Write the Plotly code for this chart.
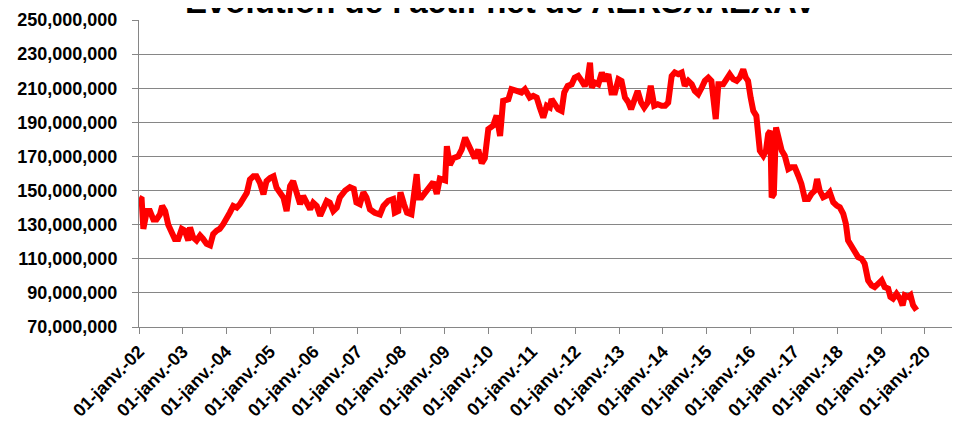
import pandas as pd
import plotly.graph_objects as go

TITLE = "Evolution de l'actif net de AERSXAEXAV"

# Decimal years
years = [
    2002.00, 2002.06, 2002.10, 2002.18, 2002.25, 2002.33, 2002.40, 2002.48, 2002.53, 2002.60,
    2002.67, 2002.75, 2002.82, 2002.90, 2002.98, 2003.05, 2003.13, 2003.17, 2003.24, 2003.32,
    2003.40, 2003.47, 2003.55, 2003.63, 2003.70, 2003.78, 2003.85, 2003.93, 2004.01, 2004.08,
    2004.16, 2004.24, 2004.31, 2004.39, 2004.47, 2004.54, 2004.62, 2004.69, 2004.77, 2004.85,
    2004.92, 2005.00, 2005.08, 2005.15, 2005.23, 2005.31, 2005.38, 2005.46, 2005.53, 2005.61,
    2005.69, 2005.76, 2005.84, 2005.92, 2005.99, 2006.07, 2006.15, 2006.22, 2006.30, 2006.37,
    2006.45, 2006.53, 2006.60, 2006.72, 2006.83, 2006.92, 2006.98, 2007.06, 2007.14, 2007.21,
    2007.29, 2007.40, 2007.52, 2007.60, 2007.71, 2007.82, 2007.86, 2007.94, 2007.99, 2008.07,
    2008.14, 2008.24, 2008.28, 2008.36, 2008.40, 2008.47, 2008.59, 2008.66, 2008.74, 2008.82,
    2008.89, 2009.01, 2009.05, 2009.12, 2009.20, 2009.31, 2009.39, 2009.47, 2009.54, 2009.62,
    2009.69, 2009.77, 2009.85, 2009.92, 2010.00, 2010.11, 2010.19, 2010.27, 2010.34, 2010.46,
    2010.53, 2010.65, 2010.76, 2010.84, 2010.92, 2010.95, 2011.03, 2011.11, 2011.18, 2011.26,
    2011.34, 2011.41, 2011.45, 2011.53, 2011.60, 2011.68, 2011.74, 2011.82, 2011.91, 2011.98,
    2012.06, 2012.14, 2012.21, 2012.27, 2012.33, 2012.37, 2012.44, 2012.52, 2012.60, 2012.67,
    2012.75, 2012.82, 2012.90, 2012.98, 2013.05, 2013.13, 2013.21, 2013.27, 2013.34, 2013.42,
    2013.50, 2013.57, 2013.65, 2013.72, 2013.80, 2013.88, 2013.97, 2014.05, 2014.12, 2014.20,
    2014.27, 2014.35, 2014.43, 2014.50, 2014.58, 2014.66, 2014.73, 2014.81, 2014.89, 2014.96,
    2015.04, 2015.11, 2015.21, 2015.27, 2015.38, 2015.46, 2015.53, 2015.61, 2015.69, 2015.76,
    2015.84, 2015.90, 2015.95, 2016.01, 2016.07, 2016.14, 2016.18, 2016.22, 2016.30, 2016.36,
    2016.41, 2016.46, 2016.49, 2016.54, 2016.59, 2016.64, 2016.72, 2016.79, 2016.87, 2016.94,
    2017.02, 2017.10, 2017.17, 2017.25, 2017.33, 2017.40, 2017.48, 2017.53, 2017.59, 2017.67,
    2017.75, 2017.82, 2017.90, 2017.98, 2018.05, 2018.13, 2018.19, 2018.24, 2018.32, 2018.40,
    2018.47, 2018.55, 2018.62, 2018.70, 2018.78, 2018.85, 2018.93, 2019.01, 2019.08, 2019.16,
    2019.21, 2019.27, 2019.35, 2019.43, 2019.49, 2019.54, 2019.62, 2019.67, 2019.73, 2019.81,
]

# Net assets in millions
net_assets_m = [
    145.8, 145.0, 127.5, 138.0, 138.0, 133.0, 133.0, 136.0, 141.0, 138.0,
    130.0, 124.5, 121.6, 121.6, 127.5, 126.5, 120.7, 128.4, 122.6, 120.7,
    123.6, 121.6, 118.7, 117.8, 124.5, 126.5, 127.5, 130.3, 133.2, 137.0,
    141.0, 140.0, 142.0, 144.9, 148.7, 156.5, 158.4, 158.4, 154.5, 147.8,
    155.5, 157.4, 158.4, 151.6, 148.7, 145.8, 138.0, 152.6, 155.5, 148.7,
    142.0, 146.8, 142.0, 139.0, 142.9, 141.0, 135.2, 140.0, 143.9, 142.9,
    138.0, 140.0, 146.0, 150.0, 152.0, 151.0, 143.0, 142.0, 149.0, 146.0,
    139.0, 137.0, 136.0, 141.0, 144.0, 145.0, 137.0, 138.0, 149.0, 142.0,
    137.0, 136.0, 147.0, 159.6, 146.0, 146.0, 150.0, 152.0, 155.0, 148.0,
    157.0, 156.0, 176.0, 165.0, 169.0, 170.0, 174.0, 181.0, 177.0, 173.0,
    169.0, 174.0, 166.0, 169.0, 186.0, 188.0, 194.0, 182.0, 202.6, 203.5,
    209.4, 208.4, 207.5, 209.4, 204.5, 204.5, 205.5, 204.5, 198.7, 192.8,
    199.7, 198.7, 203.6, 199.7, 197.7, 196.7, 207.5, 211.4, 212.3, 216.2,
    217.2, 214.3, 211.4, 214.3, 225.0, 210.4, 213.3, 212.3, 219.2, 214.3,
    218.2, 207.5, 207.5, 215.3, 214.3, 204.5, 201.6, 197.7, 202.6, 208.4,
    201.6, 198.7, 201.6, 211.4, 199.7, 200.6, 199.7, 199.7, 201.6, 217.2,
    219.2, 218.2, 219.2, 211.4, 214.3, 212.3, 208.4, 206.5, 210.4, 214.3,
    216.2, 214.3, 191.9, 212.3, 212.3, 215.3, 218.2, 215.3, 214.3, 216.2,
    221.1, 216.2, 214.3, 204.5, 196.7, 193.8, 185.0, 173.4, 170.4, 173.4,
    183.1, 185.0, 146.0, 148.0, 187.0, 181.2, 173.4, 170.4, 162.6, 163.6,
    163.6, 158.7, 153.9, 145.1, 145.1, 148.0, 150.0, 156.8, 150.0, 146.0,
    147.0, 149.0, 143.1, 141.2, 140.2, 136.3, 130.5, 120.7, 116.8, 113.9,
    111.0, 110.0, 107.1, 97.3, 94.4, 93.4, 95.4, 97.3, 93.4, 92.5,
    87.6, 86.6, 89.5, 86.6, 82.7, 88.6, 87.6, 88.6, 82.7, 79.8,
]

tick_dates = [f"{y}-01-01" for y in range(2002, 2021)]
tick_labels = [f"01-janv.-{y % 100:02d}" for y in range(2002, 2021)]


def year_to_ts(y):
    yr = int(y)
    start = pd.Timestamp(f"{yr}-01-01")
    end = pd.Timestamp(f"{yr + 1}-01-01")
    return start + (end - start) * (y - yr)


dates = [year_to_ts(y) for y in years]
values = [v * 1e6 for v in net_assets_m]

fig = go.Figure()
fig.add_trace(go.Scatter(
    x=dates, y=values, mode="lines",
    line=dict(color="#ff0000", width=6),
    hoverinfo="skip", showlegend=False,
))

font_main = dict(family="Liberation Sans", size=18, color="#000000", weight="bold")
grid = "#868686"

ML, MR, MT, MB = 131, 20, 12, 111
plot_w = 964 - ML - MR

fig.update_layout(
    width=964, height=430,
    margin=dict(l=ML, r=MR, t=MT, b=MB),
    paper_bgcolor="white", plot_bgcolor="white",
    font=font_main,
    annotations=[dict(
        text=f"<b>{TITLE}</b>", x=(492 - ML) / plot_w, xref="paper", xanchor="center",
        yref="paper", y=1.0, yanchor="bottom", yshift=-2, showarrow=False,
        font=dict(family="Liberation Sans", size=33, color="#000000"),
    )],
    xaxis=dict(
        type="date", range=["2002-01-01", "2020-08-15"], automargin=False,
        tickvals=tick_dates, ticktext=tick_labels, tickangle=-45,
        showgrid=False, showline=True, linecolor=grid, linewidth=1,
        ticks="outside", ticklen=6, tickcolor=grid, tickwidth=1,
        tickfont=font_main, zeroline=False,
    ),
    yaxis=dict(
        range=[70e6, 250e6], dtick=20e6, tick0=70e6, tickformat=",d",
        automargin=False,
        showgrid=True, gridcolor=grid, gridwidth=1,
        showline=True, linecolor=grid, linewidth=1,
        ticks="outside", ticklen=6, tickcolor=grid, tickwidth=1,
        ticklabelstandoff=11, tickfont=font_main, zeroline=False,
    ),
)

fig.write_html("out.html")
